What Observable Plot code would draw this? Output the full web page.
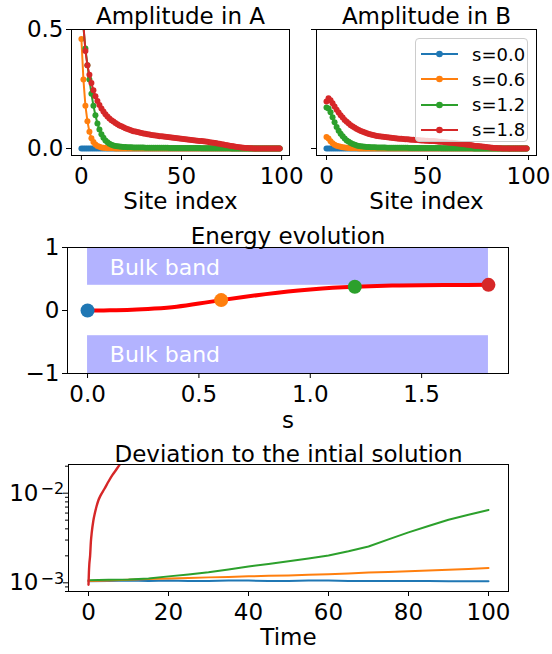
<!DOCTYPE html>
<html><head><meta charset="utf-8">
<script src="https://cdn.jsdelivr.net/npm/d3@7"></script>
<script src="https://cdn.jsdelivr.net/npm/@observablehq/plot@0.6"></script>
<style>
body{margin:0;background:#fff;}
#root{position:relative;width:552px;height:654px;overflow:hidden;background:#fff;font-family:"DejaVu Sans";}
#root > *{position:absolute;}
</style></head><body><div id="root"></div>
<script>
// ---------- data ----------
const seriesNames = ["s=0.0", "s=0.6", "s=1.2", "s=1.8"];
const seriesColors = ["#1f77b4", "#ff7f0e", "#2ca02c", "#d62728"];
const siteTicks = [0, 50, 100];
const ampTicks = [0, 0.5];

const blueA = [
0,0,0,0,0,0,0,0,0,0, 0,0,0,0,0,0,0,0,0,0, 0,0,0,0,0,0,0,0,0,0, 0,0,0,0,0,0,0,0,0,0, 0,0,0,0,0,0,0,0,0,0,
0,0,0,0,0,0,0,0,0,0, 0,0,0,0,0,0,0,0,0,0, 0,0,0,0,0,0,0,0,0,0, 0,0,0,0,0,0,0,0,0,0, 0,0,0,0,0,0,0,0,0,0];
const orangeA = [
0.46,0.29,0.18,0.115,0.07,0.043,0.027,0.017,0.011,0.007,
0.004,0.003,0.002,0.0015,0.001,0.0008,0.0006,0.0004,0.0002,0.0001,
0,0,0,0,0,0,0,0,0,0, 0,0,0,0,0,0,0,0,0,0, 0,0,0,0,0,0,0,0,0,0,
0,0,0,0,0,0,0,0,0,0, 0,0,0,0,0,0,0,0,0,0, 0,0,0,0,0,0,0,0,0,0, 0,0,0,0,0,0,0,0,0,0, 0,0,0,0,0,0,0,0,0,0];
const greenA = [
0.70,0.51,0.42,0.35,0.29,0.23,0.18,0.14,0.105,0.08,
0.06,0.045,0.034,0.026,0.02,0.016,0.013,0.011,0.009,0.008,
0.007,0.0065,0.006,0.0055,0.005,0.005,0.0045,0.0045,0.004,0.004,
0.004,0.0038,0.0036,0.0034,0.0033,0.0032,0.0031,0.003,0.003,0.003,
0.003,0.0029,0.0028,0.0027,0.0026,0.0025,0.0024,0.0023,0.0022,0.0021,
0.002,0.002,0.0019,0.0019,0.0018,0.0018,0.0017,0.0017,0.0016,0.0016,
0.0015,0.0015,0.0014,0.0014,0.0013,0.0013,0.0012,0.0012,0.0011,0.0011,
0.001,0.0009,0.0008,0.0007,0.0006,0.0005,0.0004,0.0003,0.0002,0.0001,
0,0,0,0,0,0,0,0,0,0, 0,0,0,0,0,0,0,0,0,0];
const redA = [
0.70,0.52,0.41,0.35,0.31,0.275,0.245,0.22,0.20,0.183,
0.168,0.155,0.144,0.134,0.126,0.119,0.113,0.107,0.102,0.097,
0.093,0.089,0.085,0.082,0.079,0.076,0.073,0.071,0.069,0.067,
0.065,0.063,0.062,0.060,0.059,0.057,0.056,0.055,0.054,0.052,
0.051,0.050,0.049,0.048,0.047,0.046,0.045,0.044,0.043,0.042,
0.041,0.040,0.039,0.038,0.037,0.036,0.035,0.034,0.033,0.032,
0.031,0.030,0.029,0.028,0.026,0.025,0.024,0.023,0.021,0.020,
0.018,0.017,0.015,0.014,0.012,0.010,0.009,0.007,0.006,0.005,
0.004,0.003,0.002,0.002,0.001,0.001,0.0005,0.0003,0.0002,0.0001,
0,0,0,0,0,0,0,0,0,0];

const blueB = [
0,0,0,0,0,0,0,0,0,0, 0,0,0,0,0,0,0,0,0,0, 0,0,0,0,0,0,0,0,0,0, 0,0,0,0,0,0,0,0,0,0, 0,0,0,0,0,0,0,0,0,0,
0,0,0,0,0,0,0,0,0,0, 0,0,0,0,0,0,0,0,0,0, 0,0,0,0,0,0,0,0,0,0, 0,0,0,0,0,0,0,0,0,0, 0,0,0,0,0,0,0,0,0,0];
const orangeB = [
0.048,0.042,0.03,0.022,0.016,0.012,0.009,0.007,0.005,0.004,
0.003,0.002,0.0015,0.001,0.0008,0.0006,0.0004,0.0003,0.0002,0.0001,
0,0,0,0,0,0,0,0,0,0, 0,0,0,0,0,0,0,0,0,0, 0,0,0,0,0,0,0,0,0,0,
0,0,0,0,0,0,0,0,0,0, 0,0,0,0,0,0,0,0,0,0, 0,0,0,0,0,0,0,0,0,0, 0,0,0,0,0,0,0,0,0,0, 0,0,0,0,0,0,0,0,0,0];
const greenB = [
0.172,0.168,0.152,0.131,0.11,0.09,0.075,0.062,0.051,0.042,
0.034,0.028,0.023,0.019,0.016,0.013,0.011,0.009,0.008,0.007,
0.0065,0.006,0.0055,0.005,0.0048,0.0046,0.0044,0.0042,0.004,0.0038,
0.0036,0.0035,0.0034,0.0033,0.0032,0.0031,0.003,0.003,0.0029,0.0028,
0.0027,0.0026,0.0025,0.0024,0.0023,0.0022,0.0021,0.002,0.002,0.0019,
0.0019,0.0018,0.0018,0.0017,0.0017,0.0016,0.0016,0.0015,0.0015,0.0014,
0.0014,0.0013,0.0013,0.0012,0.0012,0.0011,0.0011,0.001,0.001,0.0009,
0.0008,0.0007,0.0006,0.0005,0.0004,0.0003,0.0002,0.0002,0.0001,0.0001,
0,0,0,0,0,0,0,0,0,0, 0,0,0,0,0,0,0,0,0,0];
const redB = [
0.197,0.211,0.203,0.19,0.176,0.163,0.151,0.14,0.13,0.12,
0.112,0.105,0.098,0.092,0.087,0.082,0.078,0.074,0.07,0.067,
0.064,0.061,0.059,0.057,0.055,0.053,0.051,0.05,0.049,0.048,
0.047,0.046,0.045,0.044,0.043,0.042,0.041,0.041,0.04,0.039,
0.039,0.038,0.037,0.037,0.036,0.036,0.035,0.034,0.034,0.033,
0.033,0.032,0.031,0.031,0.03,0.029,0.028,0.028,0.027,0.026,
0.025,0.024,0.024,0.023,0.022,0.021,0.02,0.019,0.018,0.017,
0.016,0.015,0.014,0.012,0.011,0.01,0.009,0.008,0.007,0.006,
0.005,0.004,0.003,0.002,0.002,0.001,0.001,0.0005,0.0003,0.0001,
0,0,0,0,0,0,0,0,0,0];

// energy evolution
const energyS = [0,0.1,0.2,0.3,0.4,0.5,0.6,0.7,0.8,0.9,1.0,1.1,1.2,1.3,1.4,1.5,1.6,1.7,1.8];
const energyE = [0,0.002,0.01,0.03,0.06,0.11,0.165,0.215,0.26,0.3,0.333,0.36,0.378,0.39,0.397,0.401,0.404,0.406,0.407];
const markS = [0, 0.6, 1.2, 1.8];
const markE = [0, 0.165, 0.378, 0.407];
const bandS = [0, 1.8];
const bandBottom = [0.4, -1];
const bandTop = [1, -0.4];
const bandLabelS = [0.1, 0.1];
const bandLabelE = [0.57, -0.82];
const bandLabel = "Bulk band";
const energyXTicks = [0, 0.5, 1.0, 1.5];
const energyYTicks = [-1, 0, 1];

// deviation
const devTime = [0,5,10,15,20,25,30,35,40,45,50,55,60,65,70,75,80,85,90,95,100];
const devBlue = [1.04e-3,1.05e-3,1.06e-3,1.05e-3,1.06e-3,1.05e-3,1.05e-3,1.06e-3,1.06e-3,1.05e-3,1.05e-3,1.06e-3,1.06e-3,1.05e-3,1.05e-3,1.05e-3,1.05e-3,1.05e-3,1.04e-3,1.04e-3,1.04e-3];
const devOrange = [1.05e-3,1.06e-3,1.08e-3,1.1e-3,1.12e-3,1.13e-3,1.15e-3,1.16e-3,1.18e-3,1.2e-3,1.21e-3,1.23e-3,1.25e-3,1.27e-3,1.3e-3,1.32e-3,1.35e-3,1.37e-3,1.4e-3,1.43e-3,1.46e-3];
const devGreen = [1.07e-3,1.08e-3,1.09e-3,1.12e-3,1.18e-3,1.24e-3,1.31e-3,1.41e-3,1.52e-3,1.62e-3,1.74e-3,1.87e-3,2.02e-3,2.25e-3,2.54e-3,3.05e-3,3.65e-3,4.3e-3,5.05e-3,5.75e-3,6.5e-3];
const redTime = [0,0.1,0.2,0.4,0.6,0.8,1.2,1.6,2,2.5,3,4,5,6,7,8,9];
const devRed = [9.5e-4,1.3e-3,1.6e-3,2.0e-3,2.9e-3,3.6e-3,4.9e-3,6.0e-3,7.1e-3,8.4e-3,9.4e-3,1.12e-2,1.35e-2,1.6e-2,1.85e-2,2.15e-2,2.5e-2];
const devXTicks = [0,20,40,60,80,100];
const devYTicks = [1e-3, 1e-2];
const devYExponents = ["\u22123", "\u22122"];
const devYMinor = [8e-4,9e-4,2e-3,3e-3,4e-3,5e-3,6e-3,7e-3,8e-3,9e-3,2e-2];

// ---------- drawing ----------
const root = document.getElementById("root");
const FONT = "DejaVu Sans";
const baseStyle = {fontFamily: FONT, fontSize: "23px", color: "black", background: "transparent", overflow: "visible"};
function place(el, left, top) { el.style.left = left + "px"; el.style.top = top + "px"; root.appendChild(el); }
const siteIndex = blueA.map((_, i) => i);

function ampMarks(arrs) {
  const marks = [];
  arrs.forEach((arr, k) => {
    const rows = arr.map((v, i) => ({site: siteIndex[i], value: v}));
    marks.push(Plot.line(rows, {x: "site", y: "value", stroke: seriesColors[k], strokeWidth: 2, clip: true}));
    marks.push(Plot.dot(rows, {x: "site", y: "value", fill: seriesColors[k], r: 3, clip: true}));
  });
  return marks;
}
function titleMark(t, dy) { return Plot.text([t], {text: d => d, frameAnchor: "top", dy: dy, lineAnchor: "bottom", fontSize: 23}); }
function xLabelMark(t, dy) { return Plot.text([t], {text: d => d, frameAnchor: "bottom", dy: dy, lineAnchor: "bottom", fontSize: 23}); }

// Panel A
const pA = Plot.plot({
  width: 300, height: 220, marginLeft: 71, marginRight: 11, marginTop: 29, marginBottom: 65,
  x: {domain: [-4.95, 103.95]}, y: {domain: [-0.0294, 0.5]},
  style: baseStyle,
  marks: [
    ...ampMarks([blueA, orangeA, greenA, redA]),
    Plot.frame({stroke: "black"}),
    Plot.axisX({ticks: siteTicks, tickSize: 5, tickPadding: 7, label: null, tickFormat: d => String(d)}),
    Plot.axisY({ticks: ampTicks, tickSize: 5, tickPadding: 3, label: null, tickFormat: d => d.toFixed(1)}),
    titleMark("Amplitude in A", -6),
    xLabelMark("Site index", 53)
  ]
});
place(pA, 0, 0);

// Panel B
const pB = Plot.plot({
  width: 252, height: 220, marginLeft: 16, marginRight: 16, marginTop: 29, marginBottom: 65,
  x: {domain: [-4.95, 103.95]}, y: {domain: [-0.0294, 0.5]},
  style: baseStyle,
  marks: [
    ...ampMarks([blueB, orangeB, greenB, redB]),
    Plot.frame({stroke: "black"}),
    Plot.axisX({ticks: siteTicks, tickSize: 5, tickPadding: 7, label: null, tickFormat: d => String(d)}),
    Plot.axisY({ticks: ampTicks, tickSize: 5, tickPadding: 3, label: null, tickFormat: () => ""}),
    titleMark("Amplitude in B", -6),
    xLabelMark("Site index", 53)
  ]
});
place(pB, 300, 0);

// Legend
const legend = document.createElement("div");
Object.assign(legend.style, {width: "111px", height: "102px", border: "1px solid #cccccc", borderRadius: "4px",
  background: "rgba(255,255,255,0.8)", fontFamily: FONT, fontSize: "18px", color: "black"});
seriesNames.forEach((name, k) => {
  const row = document.createElement("div");
  Object.assign(row.style, {position: "absolute", left: "4px", top: (4 + k * 25.3) + "px", height: "22px", display: "flex", alignItems: "center", whiteSpace: "nowrap"});
  row.innerHTML = `<svg width="42" height="22" style="margin-right:10px"><line x1="1" x2="38" y1="11" y2="11" stroke="${seriesColors[k]}" stroke-width="2.2"/><circle cx="19.5" cy="11" r="3.3" fill="${seriesColors[k]}"/></svg><span>${name}</span>`;
  legend.appendChild(row);
});
place(legend, 415, 38);

// Energy evolution
const energyRows = energyS.map((s, i) => ({s, e: energyE[i]}));
const markRows = markS.map((s, i) => ({s, e: markE[i], c: seriesColors[i]}));
const bandRows = bandBottom.map((lo, i) => ({x1: bandS[0], x2: bandS[1], y1: lo, y2: bandTop[i]}));
const bandTextRows = bandLabelS.map((s, i) => ({s, e: bandLabelE[i], t: bandLabel}));
const pE = Plot.plot({
  width: 552, height: 210, marginLeft: 67, marginRight: 44, marginTop: 27, marginBottom: 57,
  x: {domain: [-0.09, 1.89]}, y: {domain: [-1, 1]},
  color: {type: "identity"},
  style: baseStyle,
  marks: [
    Plot.rect(bandRows, {x1: "x1", x2: "x2", y1: "y1", y2: "y2", fill: "#b3b3ff"}),
    Plot.text(bandTextRows, {x: "s", y: "e", text: "t", fill: "white", textAnchor: "start", lineAnchor: "bottom", fontSize: 22}),
    Plot.line(energyRows, {x: "s", y: "e", stroke: "red", strokeWidth: 4, curve: "natural"}),
    Plot.dot(markRows, {x: "s", y: "e", fill: "c", r: 7}),
    Plot.frame({stroke: "black"}),
    Plot.axisX({ticks: energyXTicks, tickSize: 5, tickPadding: 7, label: null, tickFormat: d => d.toFixed(1)}),
    Plot.axisY({ticks: energyYTicks, tickSize: 5, tickPadding: 3, label: null, tickFormat: d => d < 0 ? "\u2212" + Math.abs(d) : String(d)}),
    titleMark("Energy evolution", -4),
    xLabelMark("s", 54)
  ]
});
place(pE, 0, 220);

// Deviation
const devSeries = [devBlue, devOrange, devGreen];
const devMarks = devSeries.map((arr, k) => Plot.line(arr.map((v, i) => ({t: devTime[i], v})), {x: "t", y: "v", stroke: seriesColors[k], strokeWidth: 2, clip: true}));
devMarks.push(Plot.line(devRed.map((v, i) => ({t: redTime[i], v})), {x: "t", y: "v", stroke: seriesColors[3], strokeWidth: 2.4, curve: "monotone-x", clip: true}));
const devTickRows = devYTicks.map((v, i) => ({v, exp: devYExponents[i]}));
const pD = Plot.plot({
  width: 552, height: 224, marginLeft: 68, marginRight: 44, marginTop: 34, marginBottom: 63,
  x: {domain: [-5, 105]}, y: {type: "log", domain: [0.0008, 0.0209]},
  style: baseStyle,
  marks: [
    ...devMarks,
    Plot.frame({stroke: "black"}),
    Plot.axisX({ticks: devXTicks, tickSize: 5, tickPadding: 7, label: null, tickFormat: d => String(d)}),
    Plot.axisY({ticks: devYTicks, tickSize: 5, label: null, tickFormat: () => ""}),
    Plot.axisY({ticks: devYMinor, tickSize: 3, label: null, tickFormat: () => ""}),
    Plot.text(devTickRows, {y: "v", frameAnchor: "left", text: () => "10", textAnchor: "end", dx: -30, lineAnchor: "middle", fontSize: 23}),
    Plot.text(devTickRows, {y: "v", frameAnchor: "left", text: "exp", textAnchor: "start", dx: -28, dy: 1, lineAnchor: "bottom", fontSize: 16}),
    titleMark("Deviation to the intial solution", -3),
    xLabelMark("Time", 53)
  ]
});
place(pD, 0, 430);
</script></body></html>
